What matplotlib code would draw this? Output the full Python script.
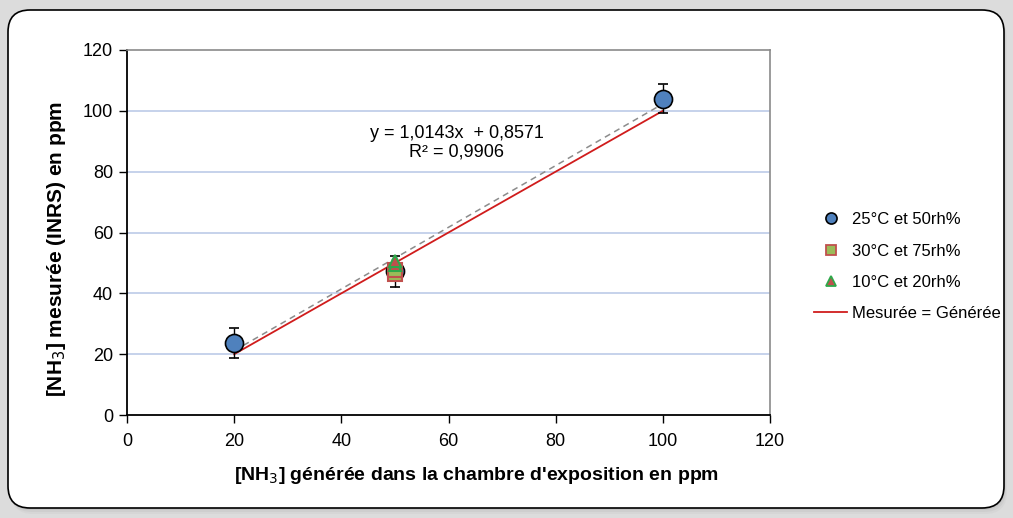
import numpy as np
import matplotlib.pyplot as plt
import matplotlib as mpl
from matplotlib.patches import FancyBboxPatch
from matplotlib.lines import Line2D

mpl.rcParams['font.family'] = ['Liberation Sans', 'DejaVu Sans']
mpl.rcParams['font.size'] = 13

# series
x_25 = [20, 50, 100]
y_25 = [23.7, 47.2, 104.0]
err_25 = [5.0, 5.0, 4.7]

x_30 = [50, 50]
y_30 = [46.3, 47.8]

x_10 = [50, 50]
y_10 = [49.3, 50.6]

slope, intercept = 1.0143, 0.8571
fit_x = np.array([20, 100])
ident_x = np.array([20, 100])

xticks = [0, 20, 40, 60, 80, 100, 120]
yticks = [0, 20, 40, 60, 80, 100, 120]

fig = plt.figure(figsize=(10.13, 5.18), dpi=100)
fig.patch.set_facecolor('#dcdcdc')

# soft shadow + rounded white frame (behind the axes)
for i, a in enumerate([0.05, 0.07, 0.09]):
    off = 0.06 - i * 0.02
    sh = FancyBboxPatch((0.08 + off * 0.5, 0.10 - off), 9.96, 4.98,
                        boxstyle='round,pad=0,rounding_size=0.22',
                        transform=fig.dpi_scale_trans, facecolor='#707070',
                        edgecolor='none', alpha=a, zorder=-3)
    fig.patches.append(sh)
frame = FancyBboxPatch((0.08, 0.10), 9.96, 4.98,
                       boxstyle='round,pad=0,rounding_size=0.22',
                       transform=fig.dpi_scale_trans, facecolor='white',
                       edgecolor='black', linewidth=1.2, zorder=-2)
fig.patches.append(frame)

ax = fig.add_axes([0.1254, 0.1988, 0.6347, 0.7047])
ax.set_facecolor('none')

ax.set_xlim(0, 120)
ax.set_ylim(0, 120)
ax.set_xticks(xticks)
ax.set_yticks(yticks)
ax.tick_params(direction='out', length=6, width=1, colors='black', labelsize=13)
ax.tick_params(axis='y', pad=4)
ax.tick_params(axis='x', pad=7)

for g in yticks[1:-1]:
    ax.axhline(g, color='#bccbe8', linewidth=1.2, zorder=1)

ax.spines['left'].set_linewidth(1.3)
ax.spines['bottom'].set_linewidth(1.3)
ax.spines['top'].set_color('#8a8a8a')
ax.spines['right'].set_color('#8a8a8a')
ax.spines['top'].set_linewidth(1.2)
ax.spines['right'].set_linewidth(1.2)

ax.plot(ident_x, ident_x, color='#d01c1c', linewidth=1.3, zorder=3)
ax.plot(fit_x, slope * fit_x + intercept, color='#8c8c8c', linewidth=1.1,
        linestyle=(0, (4, 3)), zorder=4)

ax.errorbar(x_25, y_25, yerr=err_25, fmt='none', ecolor='black',
            elinewidth=1, capsize=3.5, capthick=1.2, zorder=5)
ax.plot(x_25, y_25, 'o', markersize=13, markerfacecolor='#4f81bd',
        markeredgecolor='black', markeredgewidth=1.2, linestyle='none', zorder=6)
ax.plot(x_30, y_30, 's', markersize=10, markerfacecolor='#9bbb59',
        markeredgecolor='#c0504d', markeredgewidth=1.5, linestyle='none', zorder=7)
ax.plot(x_10, y_10, '^', markersize=9, markerfacecolor='#c0504d',
        markeredgecolor='#2ea84a', markeredgewidth=1.5, linestyle='none', zorder=8)

ax.text(61.5, 89.5, 'y = 1,0143x  + 0,8571\nR² = 0,9906', ha='center', va='center',
        fontsize=13, linespacing=1.1)

ax.set_xlabel('[NH$_3$] générée dans la chambre d\'exposition en ppm',
              fontweight='bold', fontsize=14)
ax.set_ylabel('[NH$_3$] mesurée (INRS) en ppm', fontweight='bold', fontsize=15)
ax.xaxis.set_label_coords(0.544, -0.136)
ax.yaxis.set_label_coords(-0.092, 0.455)

handles = [
    Line2D([], [], marker='o', linestyle='none', markersize=8,
           markerfacecolor='#4f81bd', markeredgecolor='black', markeredgewidth=1.2),
    Line2D([], [], marker='s', linestyle='none', markersize=7,
           markerfacecolor='#9bbb59', markeredgecolor='#c0504d', markeredgewidth=1.3),
    Line2D([], [], marker='^', linestyle='none', markersize=7,
           markerfacecolor='#c0504d', markeredgecolor='#2ea84a', markeredgewidth=1.3),
    Line2D([], [], color='#d01c1c', linewidth=1.3),
]
labels = ['25°C et 50rh%', '30°C et 75rh%', '10°C et 20rh%', 'Mesurée = Générée']
fig.legend(handles, labels, loc='center left', bbox_to_anchor=(0.797, 0.485),
           frameon=False, fontsize=12, handlelength=2.0, handletextpad=0.3,
           labelspacing=0.98, borderaxespad=0)

fig.savefig('out.png', dpi=100)
